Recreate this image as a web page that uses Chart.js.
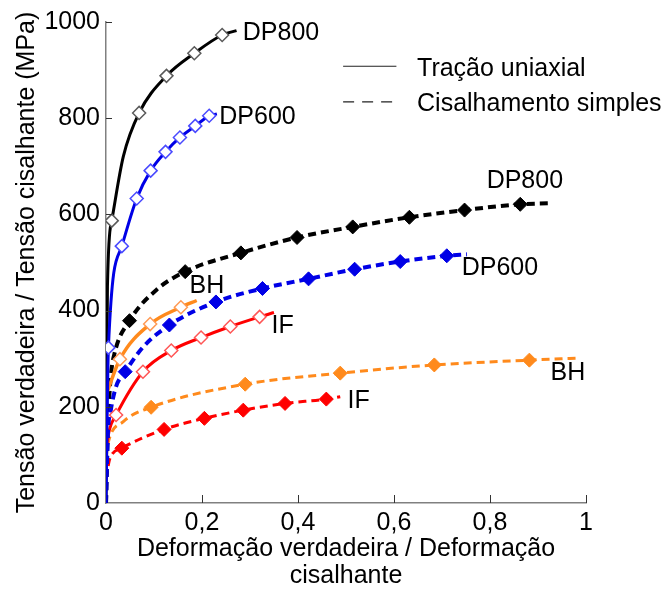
<!DOCTYPE html>
<html>
<head>
<meta charset="utf-8">
<script src="https://cdn.jsdelivr.net/npm/chart.js@4"></script>
<style>
  html, body { margin: 0; padding: 0; background: #fff; }
  #wrap { width: 665px; height: 590px; }
</style>
</head>
<body>
<div id="wrap"><canvas id="chart"></canvas></div>
<script>
// Tração uniaxial (linha contínua, marcadores abertos)
const dp800TX = [0, 0.003, 0.012, 0.036, 0.069, 0.126, 0.184, 0.242, 0.272];
const dp800TY = [0, 450, 587, 720, 811, 888, 935, 973, 982];
const dp800TMx = [0.012, 0.069, 0.126, 0.184, 0.242];
const dp800TMy = [587, 811, 888, 935, 973];

const dp600TX = [0, 0.005, 0.033, 0.064, 0.093, 0.124, 0.154, 0.186, 0.215, 0.231];
const dp600TY = [0, 323, 534, 633, 691, 730, 760, 784, 805, 809];
const dp600TMx = [0.005, 0.033, 0.064, 0.093, 0.124, 0.154, 0.186, 0.215];
const dp600TMy = [323, 534, 633, 691, 730, 760, 784, 805];

const bhTX = [0, 0.029, 0.092, 0.156, 0.189];
const bhTY = [224, 299, 372, 407, 421];
const bhTMx = [0.029, 0.092, 0.156];
const bhTMy = [299, 372, 407];

const ifTX = [0, 0.007, 0.021, 0.077, 0.136, 0.198, 0.259, 0.320, 0.350];
const ifTY = [110, 152, 183, 273, 317, 344, 367, 387, 396];
const ifTMx = [0.021, 0.077, 0.136, 0.198, 0.259, 0.320];
const ifTMy = [183, 273, 317, 344, 367, 387];

// Cisalhamento simples (tracejado, marcadores cheios)
const dp800SX = [0, 0.004, 0.010, 0.017, 0.049, 0.105, 0.165, 0.281, 0.398, 0.514, 0.632, 0.747, 0.863, 0.922];
const dp800SY = [0, 160, 263, 308, 379, 443, 481, 520, 552, 574, 594, 609, 621, 623];
const dp800SMx = [0.049, 0.165, 0.281, 0.398, 0.514, 0.632, 0.747, 0.863];
const dp800SMy = [379, 481, 520, 552, 574, 594, 609, 621];

const dp600SX = [0, 0.004, 0.010, 0.021, 0.040, 0.078, 0.132, 0.229, 0.326, 0.422, 0.518, 0.613, 0.710, 0.752];
const dp600SY = [0, 145, 193, 242, 273, 325, 370, 418, 446, 466, 486, 502, 514, 517];
const dp600SMx = [0.040, 0.132, 0.229, 0.326, 0.422, 0.518, 0.613, 0.710];
const dp600SMy = [273, 370, 418, 446, 466, 486, 502, 514];

const bhSX = [0, 0.005, 0.036, 0.094, 0.290, 0.488, 0.684, 0.882, 0.981];
const bhSY = [95, 127, 169, 199, 247, 270, 287, 297, 301];
const bhSMx = [0.094, 0.290, 0.488, 0.684, 0.882];
const bhSMy = [199, 247, 270, 287, 297];

const ifSX = [0, 0.008, 0.033, 0.121, 0.205, 0.286, 0.373, 0.459, 0.488];
const ifSY = [50, 92, 114, 153, 176, 193, 207, 216, 221];
const ifSMx = [0.033, 0.121, 0.205, 0.286, 0.373, 0.459];
const ifSMy = [114, 153, 176, 193, 207, 216];

// eixos
const xTicks = [0, 0.2, 0.4, 0.6, 0.8, 1];
const yTicks = [0, 200, 400, 600, 800, 1000];

// rótulos das curvas (ancorados em coordenadas dos dados)
const labelText = ["DP800", "DP600", "DP800", "DP600", "BH", "IF", "BH", "IF"];
const labelX = [0.285, 0.236, 0.793, 0.741, 0.174, 0.345, 0.926, 0.503];
const labelY = [977, 803, 670, 488, 450, 367, 270, 211];

const legendText = ["Tração uniaxial", "Cisalhamento simples"];

const FONT = "'Liberation Sans', Arial, sans-serif";
const SIZE = 25;
const pts = (xs, ys) => xs.map((x, i) => ({ x, y: ys[i] }));

const BLACK = "#000000", BLUE = "#0000e6", ORANGE = "#ff8a1c", RED = "#ff0000";

function lineSet(xs, ys, color, width, dashed) {
  return {
    data: pts(xs, ys), showLine: true, borderColor: color, borderWidth: width,
    borderDash: dashed ? [8, 5] : [], pointRadius: 0, cubicInterpolationMode: "monotone", fill: false
  };
}
function openMarks(xs, ys, edge) {
  return {
    data: pts(xs, ys), showLine: false, pointStyle: "rectRot", pointRadius: 6.5,
    backgroundColor: "#ffffff", borderColor: edge, borderWidth: 1.5
  };
}
function fullMarks(xs, ys, color) {
  return {
    data: pts(xs, ys), showLine: false, pointStyle: "rectRot", pointRadius: 7,
    backgroundColor: color, borderColor: color, borderWidth: 1
  };
}

const datasets = [
  openMarks(dp800TMx, dp800TMy, "#5a5a5a"),
  openMarks(dp600TMx, dp600TMy, "#4a4aff"),
  openMarks(bhTMx, bhTMy, "#ff9a55"),
  openMarks(ifTMx, ifTMy, "#ff5555"),
  fullMarks(dp800SMx, dp800SMy, BLACK),
  fullMarks(dp600SMx, dp600SMy, BLUE),
  fullMarks(bhSMx, bhSMy, ORANGE),
  fullMarks(ifSMx, ifSMy, RED),
  lineSet(dp600TX, dp600TY, BLUE, 3, false),
  lineSet(dp800TX, dp800TY, BLACK, 3, false),
  lineSet(dp600SX, dp600SY, BLUE, 4, true),
  lineSet(bhTX, bhTY, ORANGE, 3.5, false),
  lineSet(ifTX, ifTY, RED, 3, false),
  lineSet(dp800SX, dp800SY, BLACK, 4, true),
  lineSet(bhSX, bhSY, ORANGE, 3, true),
  lineSet(ifSX, ifSY, RED, 3, true)
];

// ticks para dentro, legenda e rótulos
const extras = {
  id: "extras",
  afterDraw(chart) {
    const ctx = chart.ctx;
    const xs = chart.scales.x, ys = chart.scales.y;
    const a = chart.chartArea;
    ctx.save();
    ctx.strokeStyle = "#333333";
    ctx.lineWidth = 1;
    xTicks.slice(1).forEach(v => {
      const px = Math.round(xs.getPixelForValue(v)) + 0.5;
      ctx.beginPath(); ctx.moveTo(px, a.bottom); ctx.lineTo(px, a.bottom - 8); ctx.stroke();
    });
    yTicks.slice(1).forEach(v => {
      const py = Math.round(ys.getPixelForValue(v)) + 0.5;
      ctx.beginPath(); ctx.moveTo(a.left, py); ctx.lineTo(a.left + 6, py); ctx.stroke();
    });

    ctx.fillStyle = "#000";
    ctx.font = SIZE + "px " + FONT;
    ctx.textBaseline = "middle";
    ctx.textAlign = "left";
    labelText.forEach((t, i) => {
      ctx.fillText(t, xs.getPixelForValue(labelX[i]), ys.getPixelForValue(labelY[i]));
    });

    // legenda
    const lx0 = xs.getPixelForValue(0.494), lx1 = xs.getPixelForValue(0.605);
    const tx = xs.getPixelForValue(0.648);
    const r1 = ys.getPixelForValue(908), r2 = ys.getPixelForValue(834);
    ctx.strokeStyle = "#222";
    ctx.lineWidth = 1.2;
    ctx.beginPath(); ctx.moveTo(lx0, r1); ctx.lineTo(lx1, r1); ctx.stroke();
    ctx.setLineDash([11, 8]);
    ctx.beginPath(); ctx.moveTo(lx0, r2); ctx.lineTo(lx1, r2); ctx.stroke();
    ctx.setLineDash([]);
    ctx.fillText(legendText[0], tx, r1 + 3);
    ctx.fillText(legendText[1], tx, r2 + 2);
    ctx.restore();
  }
};

new Chart(document.getElementById("chart"), {
  type: "scatter",
  data: { datasets },
  options: {
    responsive: true,
    maintainAspectRatio: false,
    animation: false,
    layout: { padding: { left: 0, right: 79, top: 22, bottom: 0 } },
    plugins: { legend: { display: false }, tooltip: { enabled: false } },
    scales: {
      x: {
        type: "linear", min: 0, max: 1,
        afterBuildTicks: s => { s.ticks = xTicks.map(v => ({ value: v })); },
        afterFit: s => { s.height = 87; },
        grid: { display: false, drawTicks: false },
        border: { display: true, color: "#808080", width: 1.5 },
        ticks: {
          color: "#000", padding: 5, maxRotation: 0, font: { family: FONT, size: SIZE },
          callback: v => String(v).replace(".", ",")
        },
        title: {
          display: true, color: "#000", padding: { top: 0, bottom: 0 },
          font: { family: FONT, size: SIZE, lineHeight: 1.08 },
          text: ["Deformação verdadeira / Deformação", "cisalhante"]
        }
      },
      y: {
        type: "linear", min: 0, max: 1000,
        afterBuildTicks: s => { s.ticks = yTicks.map(v => ({ value: v })); },
        afterFit: s => { s.width = 106; },
        grid: { display: false, drawTicks: false },
        border: { display: true, color: "#808080", width: 1.5 },
        ticks: {
          color: "#000", padding: 6, font: { family: FONT, size: SIZE },
          callback: v => String(v)
        },
        title: {
          display: true, color: "#000", padding: { top: 12, bottom: 0 },
          font: { family: FONT, size: SIZE },
          text: "Tensão verdadeira / Tensão cisalhante (MPa)"
        }
      }
    }
  },
  plugins: [extras]
});
</script>
</body>
</html>
